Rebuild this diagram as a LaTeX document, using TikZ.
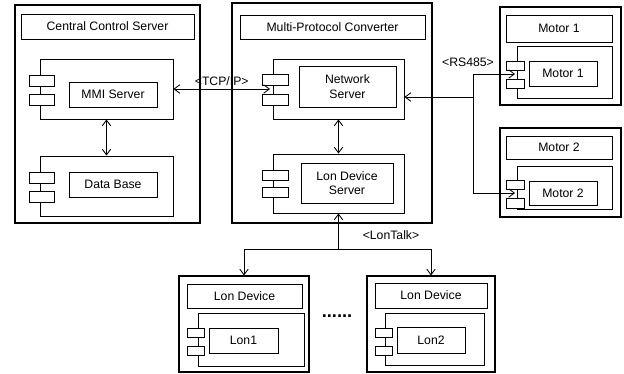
\documentclass[tikz,border=0pt]{standalone}
\usepackage{fontspec}
\setmainfont{Liberation Sans}
\usetikzlibrary{fit,arrows.meta}

\begin{document}
\begin{tikzpicture}[x=0.025cm,y=-0.025cm,
  every node/.style={font=\fontsize{8.7}{10.4}\selectfont},
  outerbox/.style={draw,line width=0.75pt,inner sep=0pt},
  titlebox/.style={draw,line width=0.65pt,inner sep=0pt,label={[align=center]center:#1}},
  compbox/.style={draw,line width=0.65pt,inner sep=0pt},
  portbox/.style={draw,fill=white,line width=0.65pt,inner sep=0pt},
  namebox/.style={draw,line width=0.65pt,inner sep=0pt,label={[align=center]center:#1}},
  link/.style={line width=0.6pt,-{Straight Barb[length=4pt,width=6pt]}},
  both/.style={line width=0.6pt,{Straight Barb[length=4pt,width=6pt]}-{Straight Barb[length=4pt,width=6pt]}}]
\useasboundingbox (0,0) rectangle (624,374);
% central control server
\node[outerbox,fit={(15,5)(200,223)}] (ccs) {};
\node[titlebox=Central Control Server,fit={(21,14)(194,39)}] (ccst) {};
\node[compbox,fit={(40,59)(173,119)}] (mmic) {};
\node[portbox,fit={(29,75)(54,86)}] (mmip1) {};
\node[portbox,fit={(29,94)(54,105)}] (mmip2) {};
\node[namebox=MMI Server,fit={(69,82)(157,107)}] (mmi) {};
\node[compbox,fit={(40,156)(173,216)}] (dbc) {};
\node[portbox,fit={(29,172)(54,183)}] (dbp1) {};
\node[portbox,fit={(29,191)(54,202)}] (dbp2) {};
\node[namebox=Data Base,fit={(69,172)(157,197)}] (db) {};
% multi-protocol converter
\node[outerbox,fit={(232,3)(432,223)}] (mpc) {};
\node[titlebox=Multi-Protocol Converter,fit={(240,15)(425,39)}] (mpct) {};
\node[compbox,fit={(273,59)(404,119)}] (nsc) {};
\node[portbox,fit={(262,74)(288,85)}] (nsp1) {};
\node[portbox,fit={(262,94)(288,105)}] (nsp2) {};
\node[namebox={Network\\Server},fit={(299,66)(396,107)}] (ns) {};
\node[compbox,fit={(273,154)(404,213)}] (ldsc) {};
\node[portbox,fit={(262,170)(288,180)}] (ldsp1) {};
\node[portbox,fit={(262,187)(288,197)}] (ldsp2) {};
\node[namebox={Lon Device\\Server},fit={(301,163)(393,203)}] (lds) {};
% motors
\node[outerbox,fit={(500,7)(621,105)}] (mo1) {};
\node[titlebox=Motor 1,fit={(506,15)(612,42)}] (mo1t) {};
\node[compbox,fit={(517,46)(612,98)}] (mo1c) {};
\node[portbox,fit={(506,61)(524,70)}] (mo1p1) {};
\node[portbox,fit={(506,79)(524,88)}] (mo1p2) {};
\node[namebox=Motor 1,fit={(529,61)(597,86)}] (mo1n) {};
\node[outerbox,fit={(500,128)(621,217)}] (mo2) {};
\node[titlebox=Motor 2,fit={(506,136)(612,159)}] (mo2t) {};
\node[compbox,fit={(517,166)(612,209)}] (mo2c) {};
\node[portbox,fit={(506,180)(524,189)}] (mo2p1) {};
\node[portbox,fit={(506,198)(524,208)}] (mo2p2) {};
\node[namebox=Motor 2,fit={(529,181)(597,205)}] (mo2n) {};
% lon devices
\node[outerbox,fit={(179,276)(309,372)}] (ldl) {};
\node[titlebox=Lon Device,fit={(187,284)(302,308)}] (ldlt) {};
\node[compbox,fit={(198,313)(304,366)}] (ldlc) {};
\node[portbox,fit={(187,328)(204,337)}] (ldlp1) {};
\node[portbox,fit={(187,346)(204,355)}] (ldlp2) {};
\node[namebox=Lon1,fit={(209,328)(278,353)}] (lon1) {};
\node[outerbox,fit={(367,276)(495,372)}] (ldr) {};
\node[titlebox=Lon Device,fit={(375,283)(487,308)}] (ldrt) {};
\node[compbox,fit={(385,313)(484,365)}] (ldrc) {};
\node[portbox,fit={(375,328)(392,337)}] (ldrp1) {};
\node[portbox,fit={(375,346)(392,355)}] (ldrp2) {};
\node[namebox=Lon2,fit={(397,327)(465,353)}] (lon2) {};
\node[font=\fontsize{13}{14}\selectfont\bfseries] (dots) at (337,316) {......};
% connectors
\coordinate (nsin) at (270,89);
\draw[both] (nsin -| mmic.east) -- (nsin) node[midway,above=-1pt] (tcp) {<TCP/IP>};
\draw[both] (mmic.south) -- (dbc.north);
\draw[both] (nsc.south) -- (ldsc.north);
\coordinate (rs) at (473,97);
\coordinate (mo1in) at (515,74);
\coordinate (mo2in) at (515,193);
\draw[link] (rs) -- (rs -| nsc.east);
\draw[link] (rs) |- (mo1in);
\draw[link] (rs) |- (mo2in);
\node (rsl) at (468,62) {<RS485>};
\coordinate (lt) at (ldsc.south |- 0,249);
\draw[link] (lt) -- (ldsc.south);
\draw[link] (lt) -| (ldl.north);
\draw[link] (lt) -| (ldr.north);
\node (ltl) at (391,235) {<LonTalk>};
\end{tikzpicture}
\end{document}
